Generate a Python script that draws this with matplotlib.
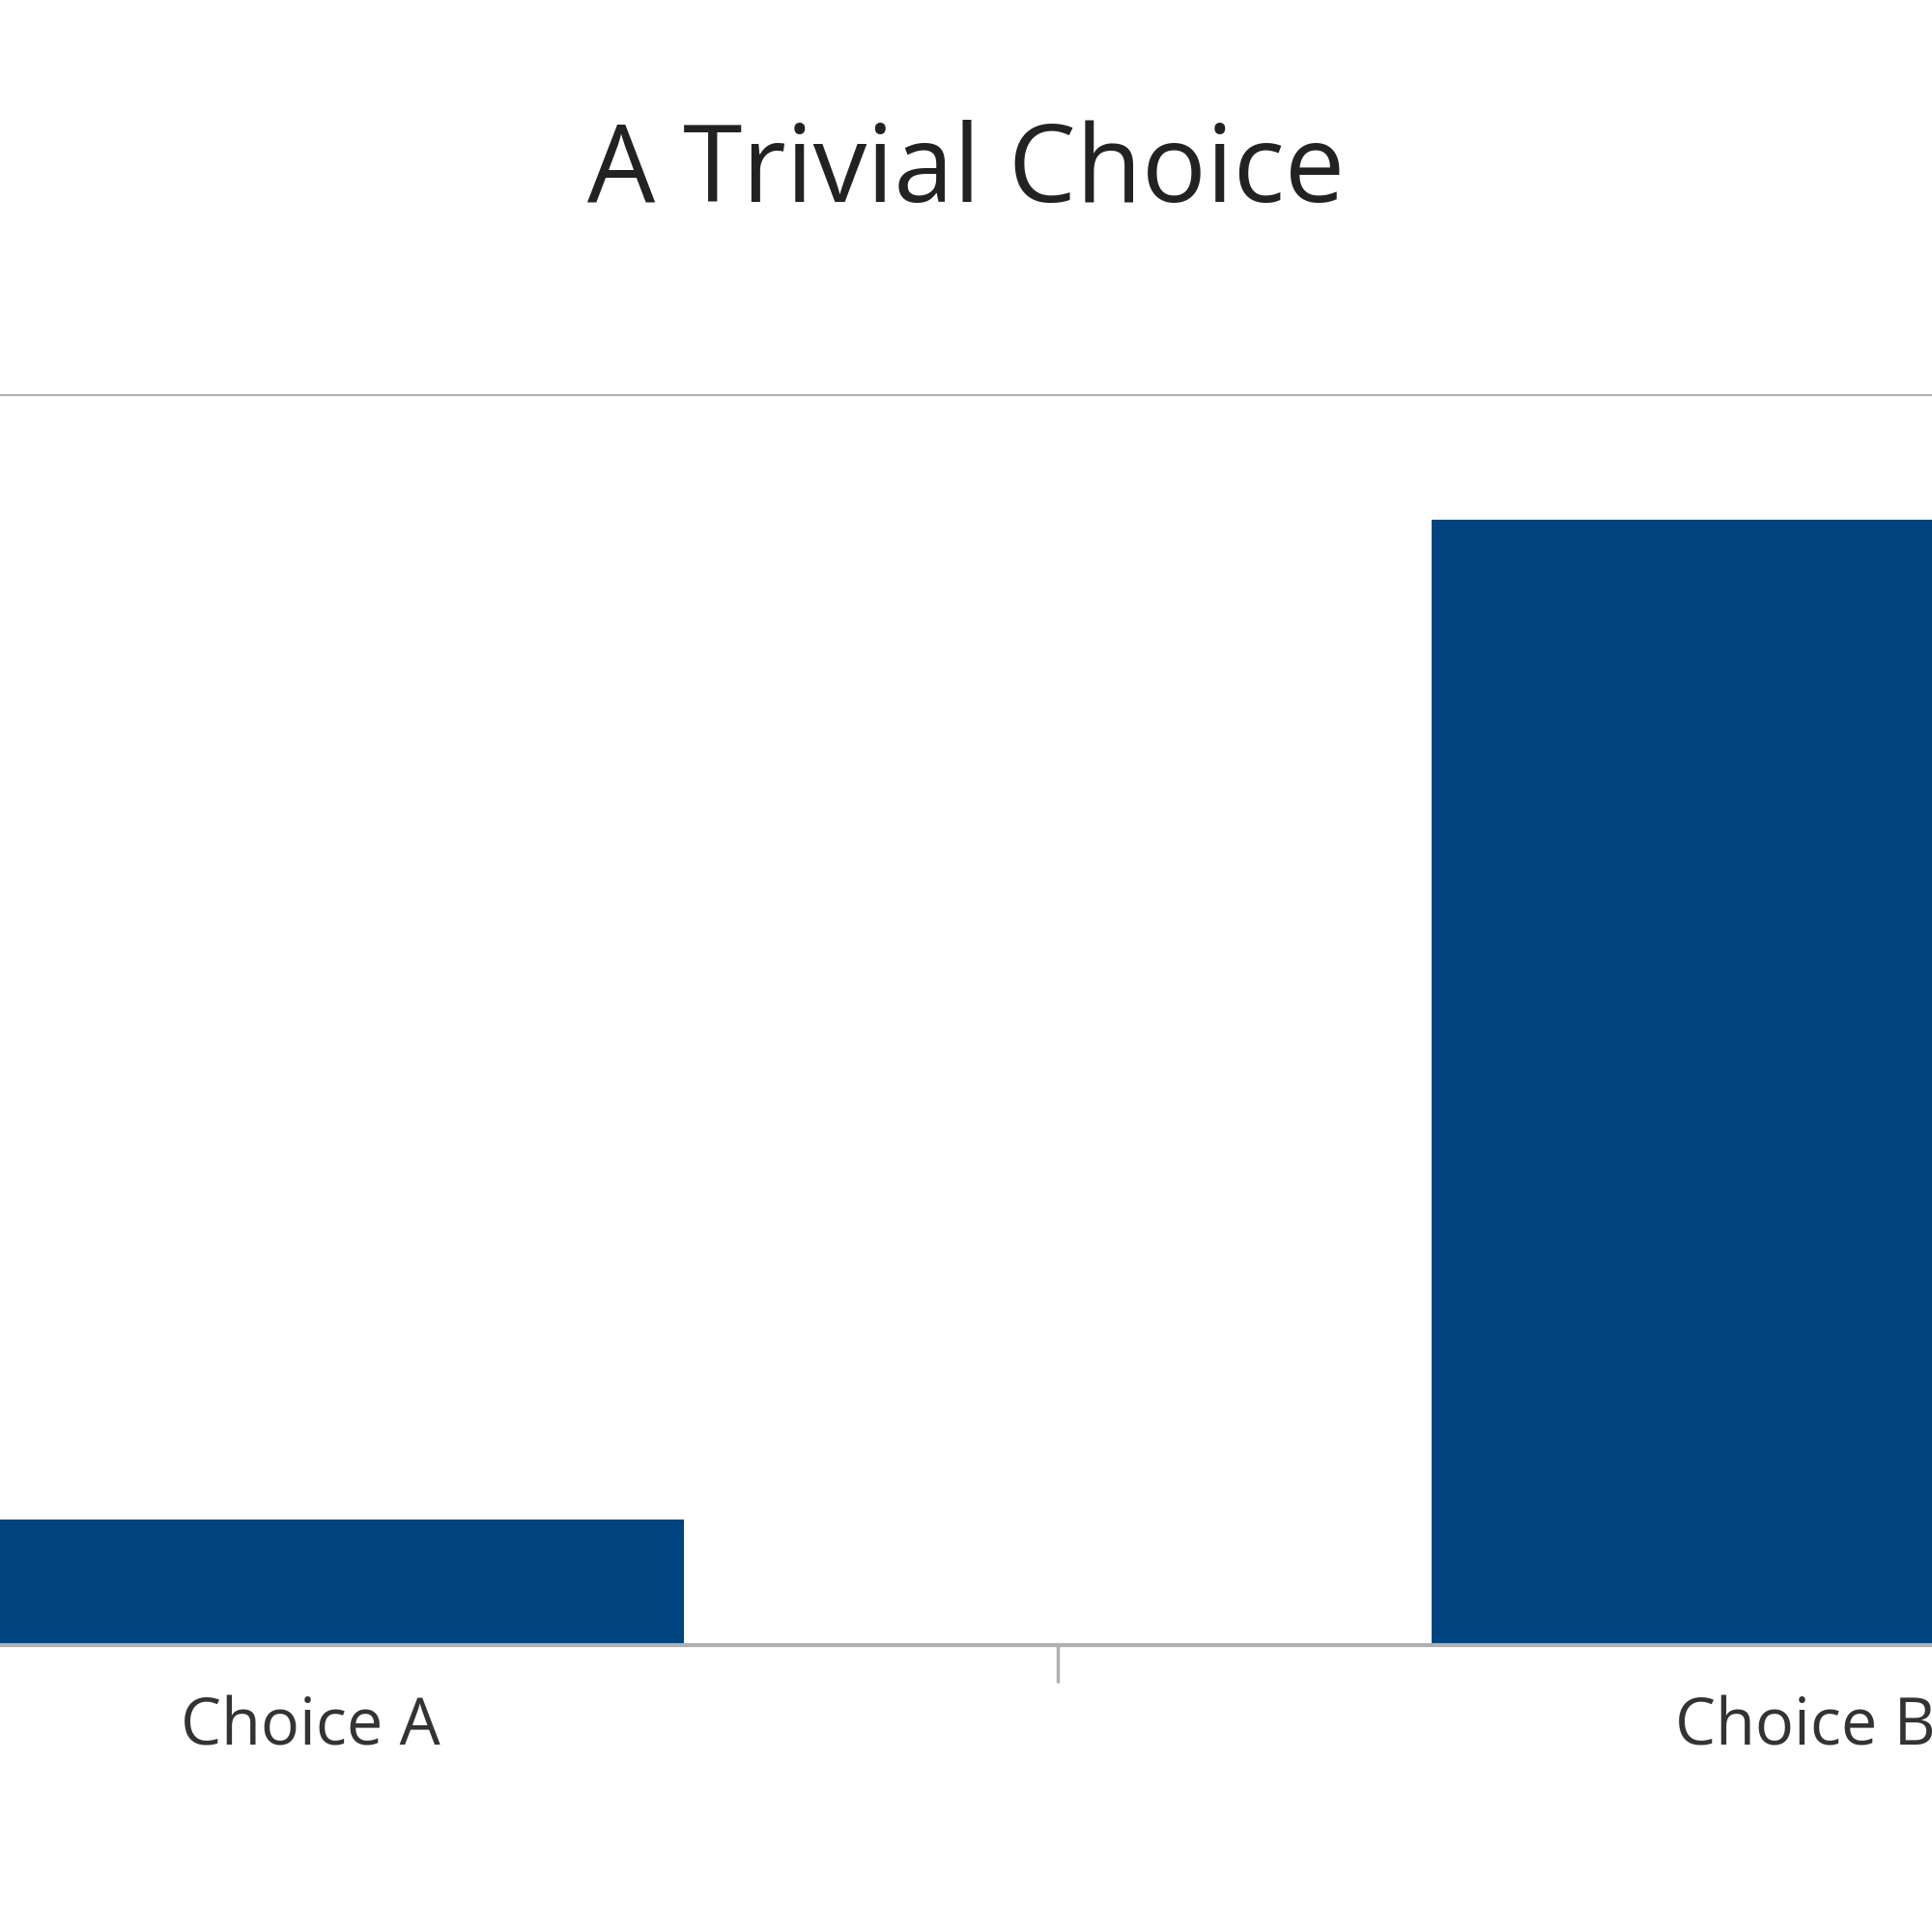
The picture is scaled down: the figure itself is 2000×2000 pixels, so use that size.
import matplotlib
matplotlib.use("Agg")
import matplotlib.pyplot as plt

categories = ["Choice A", "Choice B"]
values = [10, 90]

plt.rcParams['font.family'] = ['Open Sans', 'DejaVu Sans']
fig = plt.figure(figsize=(20, 20), dpi=100)
ax = fig.add_axes([0, 0.1486, 1, 0.6473])
x = list(range(len(categories)))
ax.bar(x, values, width=0.5, color="#00457f", zorder=2)
ax.set_xlim(-0.208, 1.085)
ax.set_ylim(0, 100)
for s in ["left", "right", "top"]:
    ax.spines[s].set_visible(False)
ax.spines["bottom"].set_color("#b0b0b0")
ax.spines["bottom"].set_linewidth(3)
ax.axhline(100, color="#b0b0b0", lw=3, zorder=1)
ax.set_yticks([])
ax.set_xticks([0.5])
ax.set_xticklabels([""])
ax.tick_params(axis="x", length=28, width=2.5, color="#b0b0b0")
for xi, c in zip(x, categories):
    ax.text(xi, -4, c, ha="center", va="top", fontsize=48, color="#333333",
            transform=ax.transData)
fig.text(0.5, 0.91, "A Trivial Choice", ha="center", va="center", fontsize=80, color="#222222")
fig.savefig("out.png", dpi=100, facecolor="white")
